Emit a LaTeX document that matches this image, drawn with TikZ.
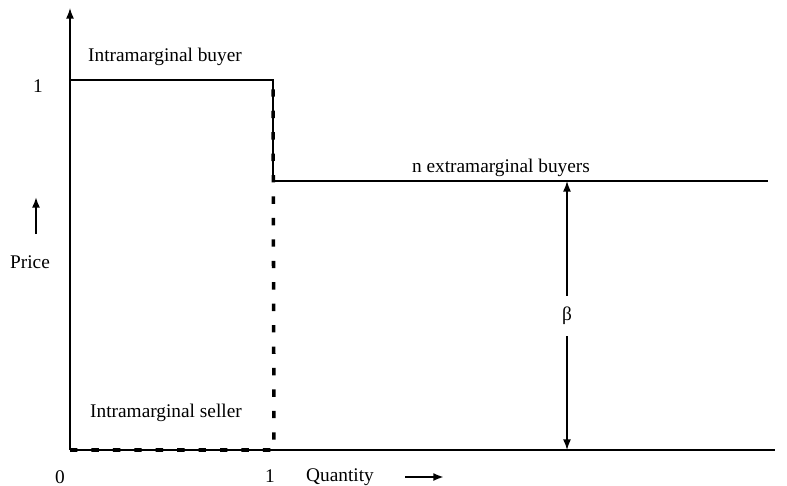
\documentclass[tikz,border=0pt]{standalone}
\usepackage{fontspec}
\setmainfont{Liberation Serif}
\usetikzlibrary{arrows.meta, positioning, calc}

\begin{document}
\begin{tikzpicture}[
    x=0.02cm, y=-0.02cm,
    font=\fontsize{11}{13}\selectfont,
    axis/.style={line width=0.9pt},
    curve/.style={line width=1pt},
    seller/.style={line width=2pt, dash pattern=on 4.2pt off 8pt},
    tip/.style={line width=0.8pt, -{Latex[length=6pt, width=4.5pt]}},
    lbl/.style={inner sep=1pt},
]
\useasboundingbox (0,0) rectangle (787,486);

% ---- ejes ----
\coordinate (O) at (70,450);
\coordinate (ytop) at (70,8);
\coordinate (xend) at (775,450);
\draw[axis, tip] (O) -- (ytop);
\draw[axis] (O) -- (xend);

% ---- compradores ----
\coordinate (b1) at (70,80);
\coordinate (b2) at (273,80);
\coordinate (b3) at (273,181);
\coordinate (b4) at (768,181);
\draw[curve] (b1) -- (b2) -- (b3) -- (b4);

% ---- vendedor (discontinua) ----
\coordinate (s1) at (274,450);
\draw[seller] (O) -- (s1) -- (b2);

% ---- beta ----
\coordinate (bt) at (567,181);
\coordinate (bb) at (567,450);
\node[lbl, minimum height=0.8cm] (beta) at (567,316) {β};
\draw[tip] (beta.north) -- (bt);
\draw[tip] (beta.south) -- (bb);

% ---- textos ----
\node[lbl] (ibuyer) at (165,57) {Intramarginal buyer};
\node[lbl] (nbuyers) at (501,168) {n extramarginal buyers};
\node[lbl] (iseller) at (166,413) {Intramarginal seller};
\node[lbl] (oney) at (38,86) {1};
\node[lbl] (zero) at (60,477) {0};
\node[lbl] (onex) at (270,476) {1};
\node[lbl] (price) at (30,262) {Price};
\node[lbl] (qty) at (340,477) {Quantity};

% flechas de los ejes
\coordinate (pa1) at (36,234);
\coordinate (pa2) at (36,197);
\draw[tip, line width=1pt] (pa1) -- (pa2);
\coordinate (qa1) at (405,477);
\coordinate (qa2) at (444,477);
\draw[tip, line width=1.3pt] (qa1) -- (qa2);

\end{tikzpicture}
\end{document}
